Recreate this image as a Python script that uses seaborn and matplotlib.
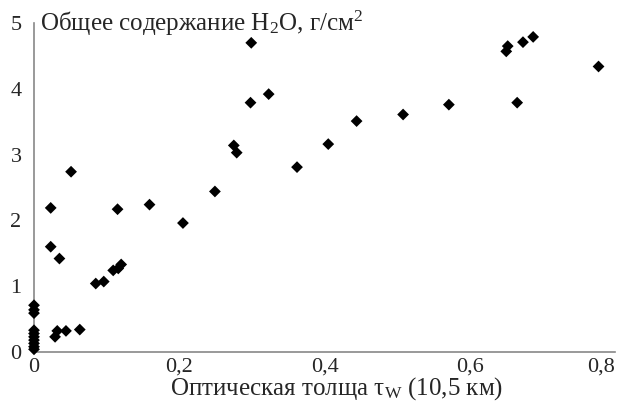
import numpy as np
import pandas as pd
import seaborn as sns
import matplotlib
matplotlib.use('Agg')
import matplotlib.pyplot as plt

# данные
tau_w = [0.0, 0.0, 0.0, 0.0, 0.0, 0.0, 0.0, 0.0, 0.0, 0.0,
         0.029, 0.032, 0.044, 0.063, 0.085, 0.096, 0.109, 0.116, 0.120,
         0.023, 0.035, 0.023, 0.051, 0.115, 0.159, 0.205, 0.249,
         0.275, 0.279, 0.298, 0.299, 0.323, 0.362, 0.405, 0.444,
         0.508, 0.571, 0.650, 0.652, 0.665, 0.673, 0.687, 0.777]
h2o = [0.71, 0.64, 0.59, 0.33, 0.28, 0.23, 0.18, 0.13, 0.08, 0.04,
       0.23, 0.32, 0.32, 0.34, 1.04, 1.07, 1.24, 1.27, 1.33,
       1.60, 1.42, 2.19, 2.74, 2.17, 2.24, 1.96, 2.44,
       3.14, 3.03, 3.79, 4.70, 3.92, 2.81, 3.16, 3.51,
       3.61, 3.76, 4.57, 4.65, 3.79, 4.71, 4.79, 4.34]
x_ticks = [0, 0.2, 0.4, 0.6, 0.8]
x_tick_labels = ['0', '0,2', '0,4', '0,6', '0,8']
y_ticks = [0, 1, 2, 3, 4, 5]

df = pd.DataFrame({'tau': tau_w, 'h2o': h2o})

sns.set_style('white')
plt.rcParams['font.family'] = ['Liberation Serif', 'DejaVu Serif']
plt.rcParams['mathtext.fontset'] = 'custom'
plt.rcParams['mathtext.rm'] = 'Liberation Serif'
plt.rcParams['mathtext.it'] = 'Liberation Serif:italic'

fig = plt.figure(figsize=(6.25, 4.05), dpi=100)
ax = fig.add_axes([0.0544, 0.131, 0.93, 0.812])

sns.scatterplot(data=df, x='tau', y='h2o', marker='D', color='black',
                s=36, edgecolor='none', ax=ax, clip_on=False, zorder=3)

ax.set_xlim(0, 0.8)
ax.set_ylim(0, 5)
ax.set_xticks(x_ticks)
ax.set_xticklabels(x_tick_labels)
ax.set_yticks(y_ticks)
ax.tick_params(direction='in', length=4, width=1, color='#888888',
               labelsize=16, pad=4)
ax.tick_params(axis='y', pad=9)
ax.get_xticklabels()[-1].set_ha('right')

for side in ['top', 'right']:
    ax.spines[side].set_visible(False)
for side in ['left', 'bottom']:
    ax.spines[side].set_color('#888888')
    ax.spines[side].set_linewidth(1.2)

ax.set_xlabel('')
ax.set_ylabel('')
ax.text(0.008, 5, 'Общее содержание H$_{\\mathrm{2}}$O, г/см$^{\\mathrm{2}}$',
        fontsize=18, va='center', ha='left')
fig.text(0.538, 0.04, 'Оптическая толща τ$_{\\mathrm{W}}$ (10,5 км)',
         fontsize=18, ha='center', va='center')

fig.savefig('out.png', dpi=100)
